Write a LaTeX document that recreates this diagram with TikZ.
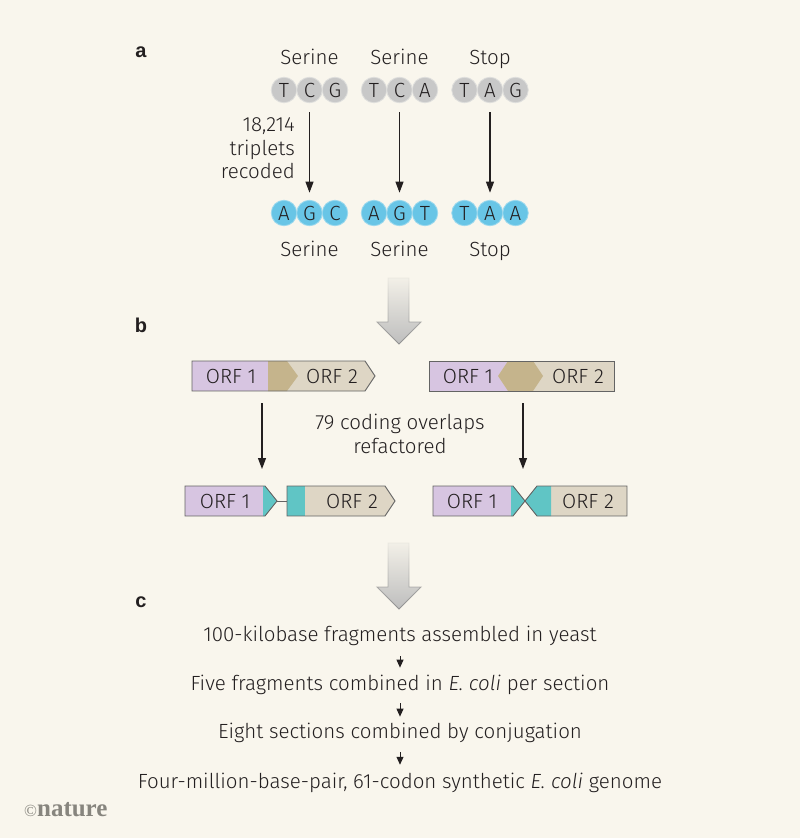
\documentclass[tikz,border=0pt]{standalone}
\usepackage{fontspec}
\setmainfont{Fira Sans}[UprightFont=* Light, ItalicFont=* Light Italic, BoldFont=* Medium]
\newfontfamily\panelfont{Liberation Sans}
\newfontfamily\logofont{Liberation Serif}
\usetikzlibrary{arrows.meta,fadings}
\definecolor{bg}{RGB}{249,246,237}
\definecolor{ink}{RGB}{35,31,32}
\definecolor{cgray}{RGB}{200,200,200}
\definecolor{cgrayline}{RGB}{222,222,220}
\definecolor{cblue}{RGB}{104,197,230}
\definecolor{cblueline}{RGB}{155,217,238}
\definecolor{orfpurple}{RGB}{215,197,225}
\definecolor{orftan}{RGB}{222,214,197}
\definecolor{orfdark}{RGB}{197,180,140}
\definecolor{orfteal}{RGB}{96,197,197}
\definecolor{boxline}{RGB}{100,100,100}
\definecolor{agray}{RGB}{190,190,190}
\definecolor{agrayline}{RGB}{145,145,145}
\definecolor{logogray}{RGB}{135,133,126}
\tikzfading[name=arrowfade, top color=transparent!90, middle color=transparent!10, bottom color=transparent!0]
\begin{document}
\begin{tikzpicture}[x=1pt,y=-1pt,
  txt/.style={font=\fontsize{20.5}{23}\selectfont, text=ink, inner sep=0pt, text height=14.1pt, text depth=0pt},
  panel/.style={font=\panelfont\bfseries\fontsize{20}{22}\selectfont, text=ink, inner sep=0pt, anchor=base},
  nucl/.style={circle, minimum size=25.5pt, inner sep=0pt, line width=0.8pt, font=\fontsize{20.5}{23}\selectfont, text=ink, text height=14.1pt, text depth=0pt},
  oldbase/.style={nucl, fill=cgray, draw=cgrayline},
  newbase/.style={nucl, fill=cblue, draw=cblueline},
  thinarrow/.style={draw=ink, line width=1.1pt, -{Triangle[length=11pt,width=8pt]}},
  smallarrow/.style={draw=ink, line width=1pt, -{Triangle[length=8pt,width=7pt]}},
  orfout/.style={draw=boxline, line width=0.9pt},
  blockarrow/.style={fill=agray, draw=agrayline, line width=0.9pt, path fading=arrowfade}
]
\fill[bg] (0,0) rectangle (800,838);
\useasboundingbox (0,0) rectangle (800,838);

% ---------- panel a ----------
\node[panel] (pa) at (141,57) {a};
\node[txt] (ls1) at (309.5,57) {Serine};
\node[txt] (ls2) at (399.5,57) {Serine};
\node[txt] (ls3) at (490,57) {Stop};

\node[oldbase] (o11) at (284,90) {T};
\node[oldbase] (o12) at (309.5,90) {C};
\node[oldbase] (o13) at (335,90) {G};
\node[oldbase] (o21) at (374,90) {T};
\node[oldbase] (o22) at (399.5,90) {C};
\node[oldbase] (o23) at (425,90) {A};
\node[oldbase] (o31) at (464.5,90) {T};
\node[oldbase] (o32) at (490,90) {A};
\node[oldbase] (o33) at (515.5,90) {G};

\node[newbase] (n11) at (284,213) {A};
\node[newbase] (n12) at (309.5,213) {G};
\node[newbase] (n13) at (335,213) {C};
\node[newbase] (n21) at (374,213) {A};
\node[newbase] (n22) at (399.5,213) {G};
\node[newbase] (n23) at (425,213) {T};
\node[newbase] (n31) at (464.5,213) {T};
\node[newbase] (n32) at (490,213) {A};
\node[newbase] (n33) at (515.5,213) {A};

\node[txt] (bs1) at (309.5,249.5) {Serine};
\node[txt] (bs2) at (399.5,249.5) {Serine};
\node[txt] (bs3) at (490,249.5) {Stop};

\node[txt, anchor=east] (rc1) at (295,124.5) {18,214};
\node[txt, anchor=east] (rc2) at (295,148) {triplets};
\node[txt, anchor=east] (rc3) at (295,171) {recoded};

\draw[thinarrow, shorten <=9.2pt, shorten >=7.2pt] (o12) -- (n12);
\draw[thinarrow, shorten <=9.2pt, shorten >=7.2pt] (o22) -- (n22);
\draw[thinarrow, shorten <=9.2pt, shorten >=7.2pt] (o32) -- (n32);

% block arrow 1
\path[blockarrow] (388,278) -- (409,278) -- (409,322) -- (421,322) -- (399,344)
  -- (377,322) -- (388,322) -- cycle;

% ---------- panel b ----------
\node[panel] (pb) at (141,332) {b};

% top left: overlapping ORFs (same direction)
\fill[orftan] (268,361) -- (365,361) -- (375,376) -- (365,391) -- (268,391) -- cycle;
\fill[orfpurple] (192,361) rectangle (268,391);
\fill[orfdark] (268,361) -- (287,361) -- (298,376) -- (287,391) -- (268,391) -- cycle;
\draw[orfout] (192,361) -- (365,361) -- (375,376) -- (365,391) -- (192,391) -- cycle;
\node[txt] (tl1) at (231,376) {ORF 1};
\node[txt] (tl2) at (332,376) {ORF 2};

% top right: overlapping ORFs (opposite direction)
\fill[orftan] (429,361) rectangle (614,391);
\fill[orfpurple] (429,361) -- (508,361) -- (498,376) -- (508,391) -- (429,391) -- cycle;
\fill[orfdark] (508,361) -- (533,361) -- (543,376) -- (533,391) -- (508,391) -- (498,376) -- cycle;
\draw[orfout] (429,361) rectangle (614,391);
\node[txt] (tr1) at (468,376) {ORF 1};
\node[txt] (tr2) at (578,376) {ORF 2};

\node[txt] (rf1) at (400,422.5) {79 coding overlaps};
\node[txt] (rf2) at (400,446) {refactored};

\coordinate (bla) at (262,403);
\coordinate (blb) at (262,469);
\coordinate (bra) at (523,403);
\coordinate (brb) at (523,469);
\draw[thinarrow] (bla) -- (blb);
\draw[thinarrow] (bra) -- (brb);

% bottom left: separated ORFs
\fill[orfpurple] (185,486) rectangle (263,516);
\fill[orfteal] (263,486) -- (265,486) -- (277,501) -- (265,516) -- (263,516) -- cycle;
\draw[orfout] (185,486) -- (265,486) -- (277,501) -- (265,516) -- (185,516) -- cycle;
\fill[orftan] (305,486) -- (385,486) -- (395,501) -- (385,516) -- (305,516) -- cycle;
\fill[orfteal] (287,486) rectangle (305,516);
\draw[orfout] (287,486) -- (385,486) -- (395,501) -- (385,516) -- (287,516) -- cycle;
\coordinate (lk1) at (277,501);
\coordinate (lk2) at (287,501);
\draw[orfout] (lk1) -- (lk2);
\node[txt] (bl1) at (225,501) {ORF 1};
\node[txt] (bl2) at (352,501) {ORF 2};

% bottom right: separated ORFs (opposite)
\fill[orfpurple] (433,486) rectangle (511,516);
\fill[orfteal] (511,486) -- (513,486) -- (525,501) -- (513,516) -- (511,516) -- cycle;
\draw[orfout] (433,486) -- (513,486) -- (525,501) -- (513,516) -- (433,516) -- cycle;
\fill[orftan] (551,486) rectangle (627,516);
\fill[orfteal] (525,501) -- (537,486) -- (551,486) -- (551,516) -- (537,516) -- cycle;
\draw[orfout] (525,501) -- (537,486) -- (627,486) -- (627,516) -- (537,516) -- cycle;
\node[txt] (br1) at (472,501) {ORF 1};
\node[txt] (br2) at (588,501) {ORF 2};

% block arrow 2
\path[blockarrow] (388,543) -- (409,543) -- (409,587) -- (421,587) -- (399,609)
  -- (377,587) -- (388,587) -- cycle;

% ---------- panel c ----------
\node[panel] (pc) at (141,607) {c};
\node[txt] (c1) at (400,634.5) {100-kilobase fragments assembled in yeast};
\node[txt] (c2) at (400,683.5) {Five fragments combined in \textit{E. coli} per section};
\node[txt] (c3) at (400,731.5) {Eight sections combined by conjugation};
\node[txt] (c4) at (400,781) {Four-million-base-pair, 61-codon synthetic \textit{E. coli} genome};
\draw[smallarrow, shorten <=14.5pt, shorten >=8.6pt] (c1) -- (c2);
\draw[smallarrow, shorten <=12.6pt, shorten >=7.6pt] (c2) -- (c3);
\draw[smallarrow, shorten <=13.6pt, shorten >=9pt] (c3) -- (c4);

% logo
\node[anchor=base west, inner sep=0pt, text=logogray, font=\logofont\bfseries\fontsize{25}{27}\selectfont] (logo) at (24,816) {{\mdseries\fontsize{17}{18}\selectfont\textcopyright}nature};
\end{tikzpicture}
\end{document}
